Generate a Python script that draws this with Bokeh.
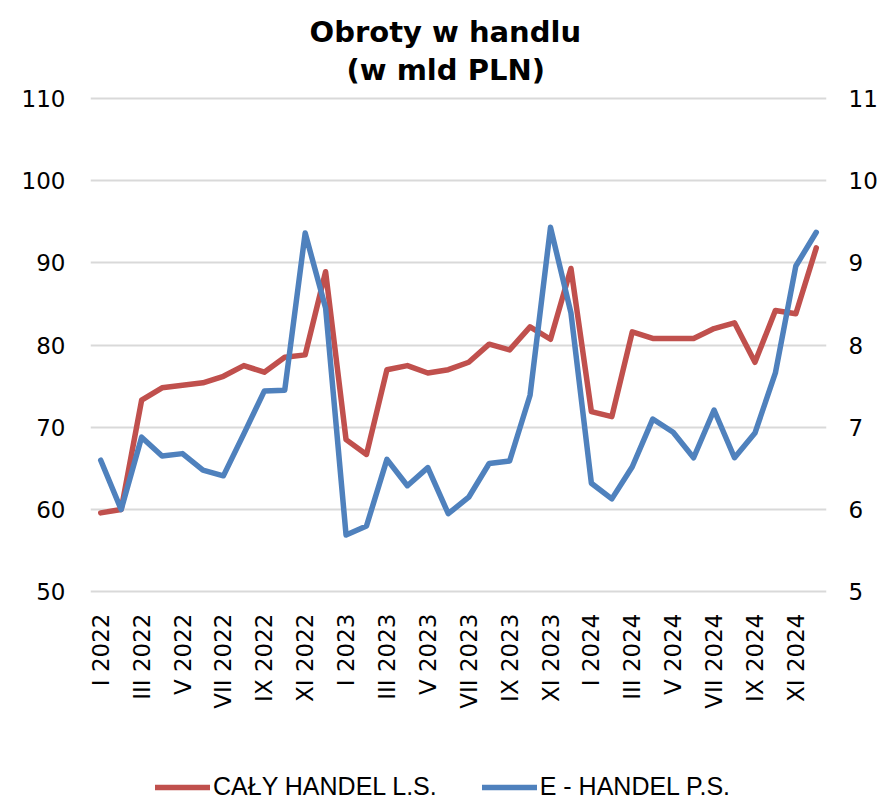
import math
from bokeh.plotting import figure
from bokeh.layouts import column
from bokeh.models import Range1d, LinearAxis, FixedTicker, Legend, LegendItem, Title
from bokeh.embed import file_html
from bokeh.resources import INLINE

months = ["I 2022", "II 2022", "III 2022", "IV 2022", "V 2022", "VI 2022",
          "VII 2022", "VIII 2022", "IX 2022", "X 2022", "XI 2022", "XII 2022",
          "I 2023", "II 2023", "III 2023", "IV 2023", "V 2023", "VI 2023",
          "VII 2023", "VIII 2023", "IX 2023", "X 2023", "XI 2023", "XII 2023",
          "I 2024", "II 2024", "III 2024", "IV 2024", "V 2024", "VI 2024",
          "VII 2024", "VIII 2024", "IX 2024", "X 2024", "XI 2024", "XII 2024"]

caly_handel = [59.6, 60.0, 73.3, 74.8, 75.1, 75.4, 76.2, 77.5, 76.7, 78.5, 78.8, 88.9,
               68.5, 66.7, 77.0, 77.5, 76.6, 77.0, 77.9, 80.1, 79.4, 82.2, 80.7, 89.3,
               71.9, 71.3, 81.6, 80.8, 80.8, 80.8, 82.0, 82.7, 77.9, 84.2, 83.8, 91.8]

e_handel = [6.60, 6.00, 6.88, 6.65, 6.68, 6.48, 6.41, 6.92, 7.44, 7.45, 9.36, 8.45,
            5.69, 5.80, 6.61, 6.29, 6.51, 5.95, 6.15, 6.56, 6.59, 7.39, 9.43, 8.39,
            6.32, 6.13, 6.52, 7.10, 6.94, 6.63, 7.21, 6.63, 6.93, 7.66, 8.96, 9.37]

left_ticks = [50, 60, 70, 80, 90, 100, 110]
right_ticks = [5, 6, 7, 8, 9, 10, 11]
series_names = ["CAŁY HANDEL L.S.", "E - HANDEL P.S."]
title_lines = ["Obroty w handlu", "(w mld PLN)"]

RED = "#c0504d"
BLUE = "#4f81bd"
GRID = "#d9d9d9"

x = list(range(len(months)))

# small padding so the top / bottom gridlines are not clipped by the frame
lpad = 0.2
rpad = lpad * (right_ticks[-1] - right_ticks[0]) / (left_ticks[-1] - left_ticks[0])

p = figure(frame_width=736, frame_height=497, output_backend="svg",
           toolbar_location=None, title=None,
           x_range=Range1d(-0.5, len(months) - 0.5),
           y_range=Range1d(left_ticks[0] - lpad, left_ticks[-1] + lpad),
           min_border_left=90, min_border_right=44, min_border_top=96,
           min_border_bottom=137)
p.extra_y_ranges = {"right": Range1d(right_ticks[0] - rpad, right_ticks[-1] + rpad)}

p.outline_line_color = None
p.background_fill_color = "white"
p.border_fill_color = "white"

# titles (second line added first: it sits nearest the frame)
p.add_layout(Title(text=title_lines[1], align="left", text_font="DejaVu Sans",
                   text_font_style="bold", text_font_size="29px",
                   text_color="black", offset=256, standoff=19), "above")
p.add_layout(Title(text=title_lines[0], align="left", text_font="DejaVu Sans",
                   text_font_style="bold", text_font_size="29px",
                   text_color="black", offset=219, standoff=-15), "above")

# x axis
xa = p.xaxis[0]
xa.ticker = FixedTicker(ticks=x[::2])
xa.major_label_overrides = {i: months[i] for i in x}
xa.major_label_orientation = math.pi / 2
xa.major_label_text_font = "DejaVu Sans"
xa.major_label_text_font_size = "23px"
xa.major_label_text_color = "black"
xa.axis_line_color = None
xa.major_tick_line_color = None
xa.minor_tick_line_color = None
xa.major_label_standoff = 14

# left axis
ya = p.yaxis[0]
ya.ticker = FixedTicker(ticks=left_ticks)
ya.major_label_text_font = "DejaVu Sans"
ya.major_label_text_font_size = "23px"
ya.major_label_text_color = "black"
ya.axis_line_color = None
ya.major_tick_line_color = None
ya.minor_tick_line_color = None
ya.major_label_standoff = 19

# right axis
ra = LinearAxis(y_range_name="right", ticker=FixedTicker(ticks=right_ticks))
ra.major_label_text_font = "DejaVu Sans"
ra.major_label_text_font_size = "23px"
ra.major_label_text_color = "black"
ra.axis_line_color = None
ra.major_tick_line_color = None
ra.minor_tick_line_color = None
ra.major_label_standoff = 16
p.add_layout(ra, "right")

p.xgrid.visible = False
p.ygrid.grid_line_color = GRID
p.ygrid.grid_line_width = 2
p.ygrid.ticker = FixedTicker(ticks=left_ticks)

line_style = dict(line_width=5.5, line_join="round", line_cap="round")
p.line(x, caly_handel, line_color=RED, **line_style)
p.line(x, e_handel, y_range_name="right", line_color=BLUE, **line_style)

# legend strip below the chart (its series lie outside its own view)
lg = figure(width=870, height=73, output_backend="svg", toolbar_location=None,
            x_axis_type=None, y_axis_type=None,
            x_range=Range1d(-0.5, len(months) - 0.5), y_range=Range1d(1000, 1001),
            min_border_left=0, min_border_right=0, min_border_top=0,
            min_border_bottom=0)
lg.outline_line_color = None
lg.grid.visible = False
lg.border_fill_color = "white"
lr1 = lg.line(x, caly_handel, line_color=RED, **line_style)
lr2 = lg.line(x, e_handel, line_color=BLUE, **line_style)

legend = Legend(items=[LegendItem(label=series_names[0], renderers=[lr1]),
                       LegendItem(label=series_names[1], renderers=[lr2])],
                orientation="horizontal", location=(65, 2), margin=0,
                padding=0, spacing=45, glyph_width=55, glyph_height=20,
                label_standoff=3, border_line_color=None,
                background_fill_alpha=0,
                label_text_font="Liberation Sans", label_text_font_size="25px",
                label_text_color="black")
lg.add_layout(legend)

open("out.html", "w").write(file_html(column(p, lg, spacing=0), INLINE))
